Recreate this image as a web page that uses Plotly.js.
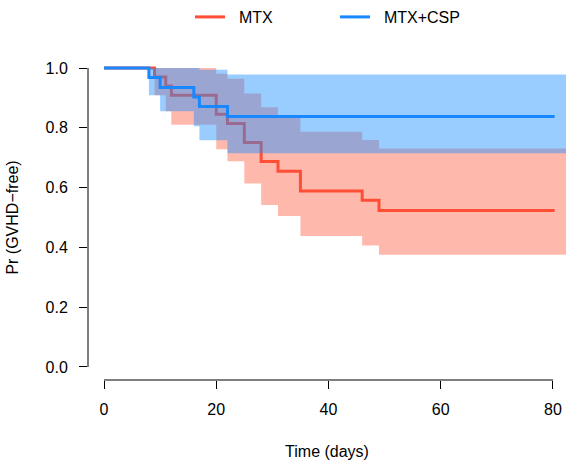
<!DOCTYPE html>
<html>
<head>
<meta charset="utf-8">
<script src="https://cdn.plot.ly/plotly-3.0.1.min.js"></script>
<style>html,body{margin:0;padding:0;background:#fff;}#chart{width:566px;height:460px;}</style>
</head>
<body>
<div id="chart"></div>
<script>
// ---- data ----
const seriesNames = ["MTX", "MTX+CSP"];

// MTX
const mtxTime  = [0, 9, 11, 12, 20, 22, 25, 28, 31, 35, 46, 49, 80.3];
const mtxSurv  = [1, 0.970, 0.940, 0.909, 0.845, 0.814, 0.751, 0.687, 0.655, 0.589, 0.558, 0.523, 0.523];
const mtxBandTime = [0, 9, 11, 12, 20, 22, 25, 28, 31, 35, 46, 49, 84];
const mtxUpper = [1, 1, 1, 1, 0.981, 0.964, 0.915, 0.869, 0.843, 0.787, 0.759, 0.731, 0.731];
const mtxLower = [1, 0.909, 0.855, 0.810, 0.728, 0.688, 0.614, 0.542, 0.505, 0.438, 0.406, 0.375, 0.375];

// MTX+CSP
const cspTime  = [0, 8, 10, 16, 17, 22, 80.3];
const cspSurv  = [1, 0.968, 0.935, 0.903, 0.871, 0.838, 0.838];
const cspBandTime = [0, 8, 10, 16, 17, 22, 84];
const cspUpper = [1, 1, 1, 1, 0.994, 0.978, 0.978];
const cspLower = [1, 0.909, 0.855, 0.805, 0.758, 0.715, 0.715];

const xTicks = [0, 20, 40, 60, 80];
const yTicks = [0, 0.2, 0.4, 0.6, 0.8, 1.0];

// ---- styles ----
const redLine = "#FF4E36";
const blueLine = "#1788FF";
const redFill = "rgba(255,99,71,0.45)";
const blueFill = "rgba(30,144,255,0.45)";
const FONT = "Liberation Sans, Arial, Helvetica, sans-serif";
const PAD = "\u00A0\u00A0";

function band(t, lo, hi, fill) {
  return [
    {x: t, y: lo, type: "scatter", mode: "lines", line: {shape: "hv", width: 0, color: "rgba(0,0,0,0)"},
     showlegend: false, hoverinfo: "skip"},
    {x: t, y: hi, type: "scatter", mode: "lines", line: {shape: "hv", width: 0, color: "rgba(0,0,0,0)"},
     fill: "tonexty", fillcolor: fill, showlegend: false, hoverinfo: "skip"}
  ];
}

const traces = [
  ...band(mtxBandTime, mtxLower, mtxUpper, redFill),
  {x: mtxTime, y: mtxSurv, type: "scatter", mode: "lines", name: PAD + seriesNames[0],
   line: {shape: "hv", width: 3, color: redLine}},
  ...band(cspBandTime, cspLower, cspUpper, blueFill),
  {x: cspTime, y: cspSurv, type: "scatter", mode: "lines", name: PAD + seriesNames[1],
   line: {shape: "hv", width: 3, color: blueLine}}
];

const layout = {
  width: 566, height: 460,
  margin: {l: 88, r: 0, t: 55, b: 80, pad: 0},
  paper_bgcolor: "#fff", plot_bgcolor: "#fff",
  font: {family: FONT, size: 16, color: "#000"},
  showlegend: true,
  legend: {orientation: "h", xref: "container", yref: "container",
           x: 190/566, y: 1, xanchor: "left", yanchor: "top",
           font: {size: 16}, entrywidth: 100, entrywidthmode: "pixels",
           traceorder: "normal", bgcolor: "rgba(0,0,0,0)"},
  xaxis: {range: [-2.851, 82.32], tickvals: xTicks, ticktext: xTicks.map(String),
          ticks: "outside", ticklen: 8, tickwidth: 1, tickcolor: "#000",
          showline: false, showgrid: false, zeroline: false, fixedrange: true,
          ticklabelstandoff: 7, tickfont: {size: 16},
          title: {text: "Time (days)", standoff: 28, font: {size: 16}}},
  yaxis: {range: [-0.0435, 1.0435], tickvals: yTicks, ticktext: yTicks.map(v => v.toFixed(1)),
          ticks: "outside", ticklen: 8, tickwidth: 1, tickcolor: "#000",
          showline: false, showgrid: false, zeroline: false, fixedrange: true,
          ticklabelstandoff: 8, tickfont: {size: 16},
          title: {text: "Pr (GVHD\u2212free)", standoff: 22, font: {size: 16}}},
  shapes: [
    {type: "line", xref: "x", yref: "paper", x0: xTicks[0], x1: xTicks[xTicks.length-1], y0: 0, y1: 0,
     line: {color: "#000", width: 1}},
    {type: "line", xref: "paper", yref: "y", x0: 0, x1: 0, y0: yTicks[0], y1: yTicks[yTicks.length-1],
     line: {color: "#000", width: 1}}
  ]
};

Plotly.newPlot("chart", traces, layout, {displayModeBar: false, staticPlot: true});
</script>
</body>
</html>
